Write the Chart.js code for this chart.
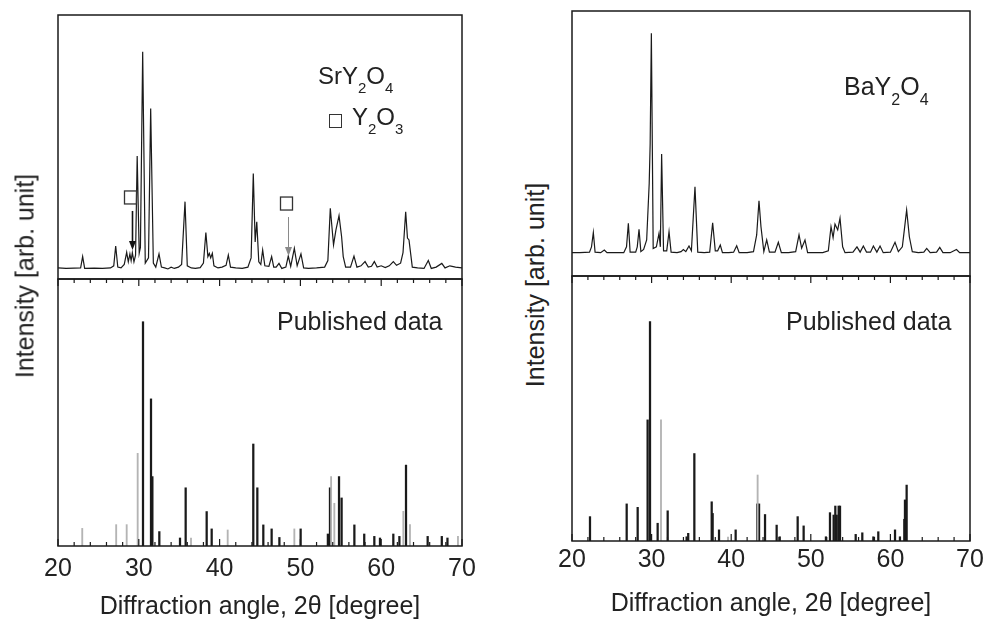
<!DOCTYPE html>
<html>
<head>
<meta charset="utf-8">
<title>SrY2O4 / BaY2O4 XRD</title>
<script src="https://cdn.jsdelivr.net/npm/chart.js@4.4.1/dist/chart.umd.min.js"></script>
<style>
  body { margin: 0; background: #fff; overflow: hidden; }
  #page { position: relative; width: 984px; height: 622px; font-family: 'Liberation Sans', Arial, sans-serif; color: #222; }
  .box { position: absolute; }
  .lbl { position: absolute; white-space: nowrap; line-height: 1; }
  .s { position: relative; }
  .ytitle { position: absolute; white-space: nowrap; font-size: 25px; line-height: 1; transform: translate(-50%, -50%) rotate(-90deg); }
  .sq { position: absolute; border: 1.3px solid #333; width: 11px; height: 12px; }
</style>
</head>
<body>
<div id="page">
  <div class="box" style="left:38px;top:10px;width:444px;height:274px"><canvas id="srTop"></canvas></div>
  <div class="box" style="left:38px;top:274px;width:444px;height:348px"><canvas id="srRef"></canvas></div>
  <div class="box" style="left:552px;top:6px;width:432px;height:275px"><canvas id="baTop"></canvas></div>
  <div class="box" style="left:552px;top:271px;width:432px;height:351px"><canvas id="baRef"></canvas></div>

  <div class="ytitle" style="left:25px;top:276px">Intensity [arb. unit]</div>
  <div class="ytitle" style="left:535px;top:285px">Intensity [arb. unit]</div>

  <div class="lbl" style="left:318px;top:64px;font-size:24px">SrY<span class="s" style="font-size:15px;top:9px">2</span>O<span class="s" style="font-size:15px;top:9px">4</span></div>
  <div class="sq" style="left:329px;top:114px"></div>
  <div class="lbl" style="left:352px;top:105px;font-size:24px">Y<span class="s" style="font-size:15px;top:9px">2</span>O<span class="s" style="font-size:15px;top:9px">3</span></div>
  <div class="lbl" style="left:844px;top:74px;font-size:25px">BaY<span class="s" style="font-size:16px;top:10px">2</span>O<span class="s" style="font-size:16px;top:10px">4</span></div>
  <div class="lbl" style="left:277px;top:309px;font-size:25px">Published data</div>
  <div class="lbl" style="left:786px;top:309px;font-size:25px">Published data</div>
</div>

<script>
// measured pattern, SrY2O4 sample (2theta in degrees, intensity in arb. units)
const srAngle = [20.0, 21.0, 22.0, 22.8, 23.05, 23.3, 24.5, 25.5, 26.5, 26.9, 27.14, 27.4, 27.8, 28.2, 28.5, 28.7, 28.9, 29.05, 29.2, 29.4, 29.6, 29.8, 30.05, 30.2, 30.48, 30.8, 31.2, 31.47, 31.8, 32.1, 32.5, 32.8, 33.2, 33.6, 34.0, 34.4, 34.9, 35.3, 35.72, 36.0, 36.5, 37.0, 37.6, 38.0, 38.3, 38.55, 38.73, 38.9, 39.1, 39.3, 39.8, 40.3, 40.8, 41.08, 41.35, 42.0, 42.8, 43.5, 43.9, 44.17, 44.4, 44.6, 44.85, 45.1, 45.33, 45.6, 46.1, 46.44, 46.7, 47.0, 47.35, 47.7, 48.2, 48.5, 48.8, 49.25, 49.6, 50.07, 50.4, 51.0, 52.0, 53.0, 53.4, 53.7, 54.1, 54.4, 54.78, 55.1, 55.3, 55.6, 56.2, 56.63, 57.0, 57.5, 58.0, 58.4, 58.8, 59.15, 59.5, 60.0, 60.5, 61.0, 61.5, 61.9, 62.4, 62.7, 63.03, 63.25, 63.44, 63.85, 64.5, 65.3, 65.83, 66.2, 66.8, 67.5, 67.9, 68.5, 69.2, 70.0];
const srCounts = [4.2, 4.0, 4.1, 4.2, 8.5, 4.0, 4.1, 4.0, 4.2, 5.0, 12.5, 4.5, 4.2, 5.5, 10.1, 6.5, 9.5, 7.0, 10.0, 6.5, 9.0, 46.6, 9.8, 12.0, 86.1, 6.0, 8.0, 64.6, 6.0, 4.5, 9.5, 4.5, 4.2, 3.8, 4.5, 4.0, 4.5, 5.5, 29.3, 5.0, 4.2, 4.0, 4.3, 6.0, 17.6, 8.5, 9.7, 8.0, 9.7, 5.0, 4.2, 4.5, 5.2, 9.1, 4.5, 4.2, 4.0, 4.5, 8.0, 40.0, 14.0, 21.7, 6.5, 5.5, 11.0, 5.0, 4.8, 8.5, 4.5, 4.5, 5.9, 4.0, 4.5, 8.7, 4.8, 11.6, 5.0, 9.5, 4.2, 4.0, 4.2, 4.5, 7.0, 26.8, 12.9, 18.6, 24.0, 16.0, 8.5, 4.5, 4.5, 8.7, 4.5, 5.0, 6.6, 4.5, 4.8, 6.6, 4.5, 5.0, 4.3, 5.0, 6.6, 5.2, 6.0, 10.0, 25.5, 15.5, 14.8, 4.5, 4.2, 4.0, 7.0, 4.0, 4.5, 5.9, 4.2, 5.0, 4.5, 4.2];

// published reference lines, SrY2O4
const srRefAngle = [30.52, 31.51, 31.68, 32.54, 35.1, 35.8, 38.4, 39.02, 44.17, 44.67, 45.41, 46.44, 47.4, 50.03, 53.4, 53.66, 54.78, 55.1, 56.68, 57.9, 59.15, 59.85, 61.5, 62.25, 63.07, 65.75, 67.5, 68.2];
const srRefInt = [84.0, 55.1, 26.0, 5.4, 3.0, 21.8, 12.9, 6.4, 38.2, 21.8, 7.9, 6.4, 3.2, 6.4, 4.5, 21.8, 26.0, 18.0, 7.9, 4.5, 3.6, 3.0, 4.5, 3.6, 30.3, 3.6, 3.6, 3.0];
const srRefFaintAngle = [23.0, 27.2, 28.5, 29.86, 36.46, 41.0, 49.25, 53.8, 54.2, 62.74, 63.56, 69.5];
const srRefFaintInt = [6.6, 8.0, 8.0, 34.7, 3.0, 6.0, 6.4, 26.0, 16.0, 13.0, 8.0, 3.6];

// Y2O3 impurity peaks marked in the SrY2O4 pattern
const y2o3Angle = [29.1, 48.5];
const y2o3Tip = [11.0, 8.7];

// measured pattern, BaY2O4 sample
const baAngle = [20.0, 21.0, 22.2, 22.45, 22.68, 22.9, 23.6, 24.06, 24.4, 25.5, 26.5, 26.85, 27.08, 27.3, 28.0, 28.2, 28.42, 28.65, 29.0, 29.38, 29.7, 29.82, 29.97, 30.2, 30.6, 30.93, 31.1, 31.26, 31.5, 31.9, 32.19, 32.45, 33.2, 33.7, 33.99, 34.3, 34.7, 35.0, 35.45, 35.8, 36.6, 37.3, 37.67, 38.0, 38.3, 38.63, 38.9, 39.7, 40.3, 40.69, 41.0, 42.0, 42.8, 43.2, 43.49, 43.74, 44.1, 44.46, 44.8, 45.5, 45.92, 46.3, 47.2, 48.1, 48.52, 48.85, 49.27, 49.6, 50.5, 51.5, 52.2, 52.54, 52.8, 53.04, 53.38, 53.67, 54.0, 54.3, 55.3, 55.8, 56.2, 56.6, 57.0, 57.5, 57.86, 58.3, 58.7, 59.1, 60.0, 60.58, 61.0, 61.5, 61.75, 62.04, 62.38, 62.75, 63.5, 64.2, 64.56, 65.0, 65.8, 66.2, 66.6, 67.5, 68.3, 68.7, 69.5, 70.0];
const baCounts = [8.8, 8.8, 9.0, 11.0, 16.4, 9.0, 8.8, 9.8, 8.8, 8.8, 8.8, 11.0, 19.9, 9.0, 9.0, 11.0, 17.6, 9.2, 10.0, 13.6, 35.0, 50.0, 91.6, 10.4, 11.0, 16.1, 11.0, 46.0, 9.5, 9.5, 16.7, 9.0, 8.8, 9.2, 10.0, 9.2, 11.3, 9.5, 33.7, 9.0, 8.8, 9.0, 20.1, 9.5, 9.5, 11.7, 8.8, 8.8, 9.0, 11.4, 8.8, 8.8, 9.2, 15.5, 28.4, 18.6, 9.2, 13.6, 9.0, 9.0, 12.7, 8.8, 8.8, 9.2, 15.5, 10.5, 13.6, 8.8, 8.8, 8.8, 9.5, 18.6, 14.5, 19.6, 17.4, 21.8, 11.0, 8.8, 9.0, 11.0, 9.0, 11.3, 9.0, 9.0, 11.3, 9.0, 11.3, 8.8, 9.0, 12.7, 9.2, 11.0, 17.4, 24.9, 14.8, 9.2, 8.8, 9.0, 10.4, 8.8, 9.0, 10.8, 8.8, 8.8, 10.0, 8.8, 8.8, 8.8];

// published reference lines, BaY2O4
const baRefAngle = [22.26, 26.87, 28.25, 29.5, 29.8, 30.76, 32.02, 34.4, 34.6, 35.37, 37.55, 37.67, 38.47, 40.56, 43.28, 43.5, 44.25, 45.71, 46.1, 48.35, 49.1, 51.9, 52.41, 52.87, 53.08, 53.25, 53.5, 53.67, 55.64, 56.47, 57.86, 58.48, 60.58, 61.2, 61.75, 61.83, 62.04];
const baRefInt = [9.2, 14.0, 12.7, 45.7, 82.8, 6.7, 11.4, 1.6, 2.9, 33.0, 14.8, 10.4, 4.2, 4.2, 14.0, 14.0, 10.0, 6.0, 1.6, 9.2, 5.7, 1.6, 10.7, 9.8, 13.2, 9.8, 13.2, 13.2, 2.5, 3.1, 1.6, 3.5, 4.2, 1.6, 8.2, 15.5, 21.1];
const baRefFaintAngle = [31.18, 43.32, 39.6];
const baRefFaintInt = [45.7, 24.9, 1.5];

const pts = (xs, ys) => xs.map((a, i) => ({ x: a, y: ys[i] }));

Chart.defaults.font.family = "'Liberation Sans', Arial, sans-serif";
Chart.defaults.color = '#222';

// panel frame plus the small 2-degree ticks on the reference panels
const frame = {
  id: 'frame',
  afterDatasetsDraw(chart, args, opts) {
    const { ctx, chartArea: a } = chart;
    const x = chart.scales.x;
    ctx.save();
    ctx.strokeStyle = '#1a1a1a';
    ctx.lineWidth = 1.5;
    ctx.strokeRect(a.left, a.top, a.right - a.left, a.bottom - a.top);
    if (opts.ticks) {
      ctx.lineWidth = 1.2;
      ctx.beginPath();
      for (let v = 20; v <= 70; v += 2) {
        const px = x.getPixelForValue(v);
        const len = v % 10 === 0 ? 7 : 4;
        ctx.moveTo(px, a.top);
        ctx.lineTo(px, a.top + len);
        ctx.moveTo(px, a.bottom);
        ctx.lineTo(px, a.bottom - len);
      }
      ctx.stroke();
    }
    ctx.restore();
  }
};

// square + arrow markers for the Y2O3 peaks
const markers = {
  id: 'markers',
  afterDatasetsDraw(chart, args, opts) {
    if (!opts.angles) return;
    const { ctx, scales: { x, y } } = chart;
    ctx.save();
    opts.angles.forEach((ang, i) => {
      const px = Math.round(x.getPixelForValue(ang)) + 0.5;
      const tip = y.getPixelForValue(opts.tips[i]);
      ctx.strokeStyle = ctx.fillStyle = opts.colors[i];
      ctx.lineWidth = i === 0 ? 1.6 : 1;
      ctx.beginPath();
      ctx.moveTo(px, tip - 39);
      ctx.lineTo(px, tip - 8);
      ctx.stroke();
      ctx.beginPath();
      ctx.moveTo(px, tip);
      ctx.lineTo(px - 3.5, tip - 9);
      ctx.lineTo(px + 3.5, tip - 9);
      ctx.closePath();
      ctx.fill();
      ctx.strokeStyle = '#333';
      ctx.lineWidth = 1.3;
      ctx.strokeRect(px - 8, tip - 59, 12, 13);
    });
    ctx.restore();
  }
};

function patternChart(id, data, pad, markerOpts) {
  return new Chart(document.getElementById(id), {
    type: 'line',
    data: {
      datasets: [{
        data,
        borderColor: '#1a1a1a',
        borderWidth: 1.2,
        pointRadius: 0,
        tension: 0
      }]
    },
    options: {
      responsive: true,
      maintainAspectRatio: false,
      animation: false,
      events: [],
      layout: { padding: pad },
      scales: {
        x: { type: 'linear', min: 20, max: 70, display: false },
        y: { min: 0, max: 100, display: false }
      },
      plugins: {
        legend: { display: false },
        tooltip: { enabled: false },
        frame: { ticks: false },
        markers: markerOpts || {}
      }
    },
    plugins: [frame, markers]
  });
}

function referenceChart(id, strong, faint, pad, axisHeight, tickPad, titlePad) {
  return new Chart(document.getElementById(id), {
    type: 'bar',
    data: {
      datasets: [
        { data: faint, backgroundColor: '#b4b4b4', barThickness: 1.2, grouped: false },
        { data: strong, backgroundColor: '#1a1a1a', barThickness: 1.6, grouped: false }
      ]
    },
    options: {
      responsive: true,
      maintainAspectRatio: false,
      animation: false,
      events: [],
      layout: { padding: pad },
      scales: {
        x: {
          type: 'linear', min: 20, max: 70, offset: false,
          grid: { display: false, drawTicks: false, offset: false },
          border: { display: false },
          ticks: { stepSize: 10, padding: tickPad, font: { size: 25 }, color: '#222', maxRotation: 0, autoSkip: false },
          title: { display: true, text: 'Diffraction angle, 2θ [degree]', font: { size: 25 }, color: '#222', padding: { top: 0, bottom: titlePad } },
          afterFit(s) {
            s.height = axisHeight;
            // edge labels may hang over the canvas edge, like the original
            s.paddingLeft = 0;
            s.paddingRight = 0;
          }
        },
        y: { min: 0, max: 100, display: false }
      },
      plugins: {
        legend: { display: false },
        tooltip: { enabled: false },
        frame: { ticks: true },
        markers: {}
      }
    },
    plugins: [frame, markers]
  });
}

patternChart('srTop', pts(srAngle, srCounts), { left: 20, right: 20, top: 5, bottom: 5 },
  { angles: y2o3Angle, tips: y2o3Tip, colors: ['#111', '#8a8a8a'] });
referenceChart('srRef', pts(srRefAngle, srRefInt), pts(srRefFaintAngle, srRefFaintInt),
  { left: 20, right: 20, top: 5, bottom: 0 }, 76, 8, 0);

patternChart('baTop', pts(baAngle, baCounts), { left: 20, right: 14, top: 5, bottom: 5 });
referenceChart('baRef', pts(baRefAngle, baRefInt), pts(baRefFaintAngle, baRefFaintInt),
  { left: 20, right: 14, top: 5, bottom: 0 }, 81, 4, 3);
</script>
</body>
</html>
